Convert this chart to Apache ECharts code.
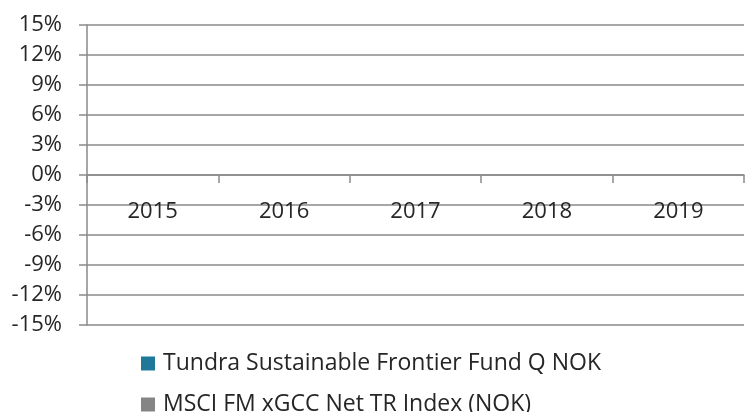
<!DOCTYPE html>
<html>
<head>
<meta charset="utf-8">
<script src="https://cdn.jsdelivr.net/npm/echarts@6/dist/echarts.min.js"></script>
<style>
  html, body { margin: 0; padding: 0; background: #fff; }
  #chart { width: 745px; height: 412px; }
</style>
</head>
<body>
<div id="chart"></div>
<script>
// categories (years)
const years = ['2015', '2016', '2017', '2018', '2019']
// no bars visible in the picture -> empty values
const fundValues = [null, null, null, null, null]
const indexValues = [null, null, null, null, null]
const seriesNames = ['Tundra Sustainable Frontier Fund Q NOK', 'MSCI FM xGCC Net TR Index (NOK)']
const seriesColors = ['#1f7898', '#858585']

const lineColor = '#8a8a8a'
const textColor = '#262626'
const font = 'Open Sans'

// one legend per row, so the rows stack like the original
const makeLegend = (name, top) => ({
  orient: 'horizontal',
  left: 141,
  top: top,
  padding: 0,
  itemWidth: 14,
  itemHeight: 14,
  itemGap: 10,
  icon: 'rect',
  textStyle: { fontSize: 23, color: textColor, fontFamily: font, padding: [0, 0, 0, 3] },
  data: [name]
})

let myChart = echarts.init(document.getElementById('chart'))
let option = {
  animation: false,
  textStyle: { fontFamily: font },
  grid: { left: 87, right: 1, top: 25, bottom: 87 },
  legend: [makeLegend(seriesNames[0], 352), makeLegend(seriesNames[1], 393)],
  xAxis: {
    type: 'category',
    data: years,
    boundaryGap: true,
    position: 'bottom',
    // axis sits on the 0% line (150px above the grid bottom)
    offset: -150,
    axisLine: { onZero: false, lineStyle: { color: lineColor, width: 1.5 } },
    axisTick: { show: true, length: 8, inside: false, lineStyle: { color: lineColor, width: 1.5 } },
    axisLabel: { margin: 26, fontSize: 22, color: textColor, fontFamily: font },
    splitLine: { show: false }
  },
  yAxis: {
    type: 'value',
    min: -0.15,
    max: 0.15,
    interval: 0.03,
    axisLine: { show: true, lineStyle: { color: lineColor, width: 1.5 } },
    axisTick: { show: true, length: 8, lineStyle: { color: lineColor, width: 1.5 } },
    axisLabel: {
      margin: 25,
      fontSize: 22,
      color: textColor,
      fontFamily: font,
      formatter: v => Math.round(v * 100) + '%'
    },
    splitLine: { show: true, lineStyle: { color: lineColor, width: 1.5 } }
  },
  series: [
    { name: seriesNames[0], type: 'bar', data: fundValues, itemStyle: { color: seriesColors[0] } },
    { name: seriesNames[1], type: 'bar', data: indexValues, itemStyle: { color: seriesColors[1] } }
  ]
}
myChart.setOption(option)
</script>
</body>
</html>
